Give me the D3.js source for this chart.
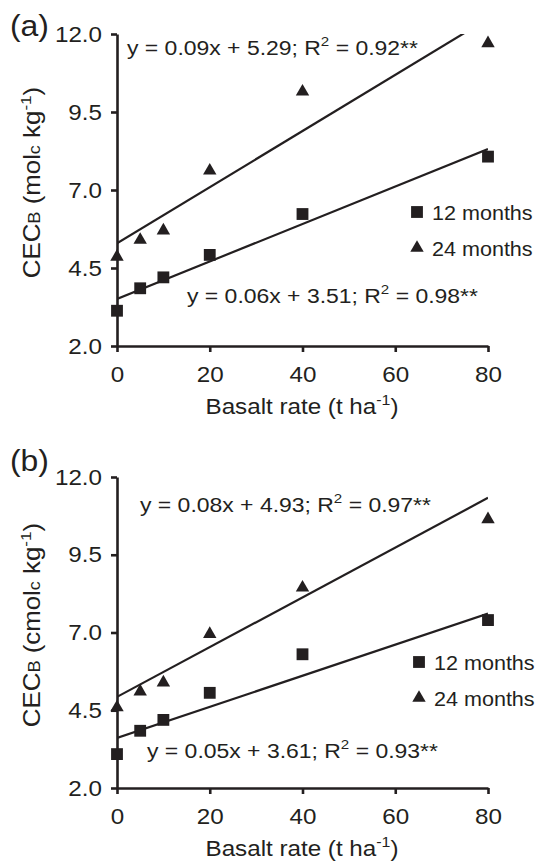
<!DOCTYPE html>
<html>
<head>
<meta charset="utf-8">
<script src="https://cdn.jsdelivr.net/npm/d3@7"></script>
<style>
  html, body { margin: 0; padding: 0; background: #fff; }
  svg { display: block; }
  text { font-family: "Liberation Sans", Arial, Helvetica, sans-serif; fill: #231f20; }
</style>
</head>
<body>
<script>
// Basalt application rates (t ha-1)
const rates = [0, 5, 10, 20, 40, 80];

// CEC_B (cmolc kg-1), panel (a)
const a12 = [3.13, 3.85, 4.20, 4.92, 6.23, 8.07];
const a24 = [4.86, 5.40, 5.70, 7.62, 10.15, 11.70];
// CEC_B (cmolc kg-1), panel (b)
const b12 = [3.09, 3.84, 4.19, 5.06, 6.30, 7.40];
const b24 = [4.59, 5.10, 5.39, 6.95, 8.44, 10.64];

// Fitted linear models: [slope, intercept, R2]
const fitA12 = [0.06, 3.51, 0.98];
const fitA24 = [0.09, 5.29, 0.92];
const fitB12 = [0.05, 3.61, 0.93];
const fitB24 = [0.08, 4.93, 0.97];

const xTicks = [0, 20, 40, 60, 80];
const yTicks = [2.0, 4.5, 7.0, 9.5, 12.0];
const legendLabels = ["12 months", "24 months"];

const W = 537, H = 863;
const INK = "#231f20";
const SX = 1.1; // horizontal stretch applied to all lettering

const svg = d3.select("body").append("svg").attr("width", W).attr("height", H);

// Text helper: places text at (x,y) with a slight horizontal stretch
function label(g, x, y, size, anchor, sx) {
  return g.append("text")
    .attr("transform", `translate(${x},${y}) scale(${sx || SX},1)`)
    .attr("font-size", size)
    .attr("text-anchor", anchor || "start");
}

function equation(g, x, y, fit) {
  const t = label(g, x, y, 20.5, "start", 1.12);
  t.append("tspan").text(`y = ${fit[0].toFixed(2)}x + ${fit[1].toFixed(2)}; R`);
  t.append("tspan").attr("font-size", 13.5).attr("dy", -9).text("2");
  t.append("tspan").attr("dy", 9).text(` = ${fit[2].toFixed(2)}**`);
}

function panel(cfg) {
  const g = svg.append("g");
  const x = d3.scaleLinear().domain([0, 80]).range([117, 488]);
  const y = d3.scaleLinear().domain([2, 12]).range([cfg.bottom, cfg.top]);

  // Axes
  const yAxis = d3.axisLeft(y).tickValues(yTicks).tickFormat(d3.format(".1f"))
    .tickSizeInner(6).tickSizeOuter(0).tickPadding(4);
  const xAxis = d3.axisBottom(x).tickValues(xTicks).tickFormat(d3.format("d"))
    .tickSizeInner(6).tickSizeOuter(0).tickPadding(14);

  const gy = g.append("g").attr("transform", `translate(117,0)`).call(yAxis);
  const gx = g.append("g").attr("transform", `translate(0,${cfg.bottom})`).call(xAxis);
  [gx, gy].forEach(a => {
    a.select(".domain").attr("stroke", INK).attr("stroke-width", 2.6);
    a.selectAll(".tick line").attr("stroke", INK).attr("stroke-width", 2.6);
    a.selectAll(".tick text").attr("font-size", 22).attr("fill", INK)
      .attr("font-family", '"Liberation Sans", Arial, sans-serif')
      .attr("transform", `scale(${SX},1)`);
  });
  gy.selectAll(".tick text").attr("x", -15 / SX);

  // Regression lines, clipped to the plotting area
  const clipId = "clip-" + cfg.name;
  g.append("clipPath").attr("id", clipId).append("rect")
    .attr("x", 117).attr("y", cfg.top).attr("width", 371).attr("height", cfg.bottom - cfg.top);
  const lines = g.append("g").attr("clip-path", `url(#${clipId})`);
  [cfg.fit12, cfg.fit24].forEach(f => {
    lines.append("line")
      .attr("x1", x(0)).attr("y1", y(f[1]))
      .attr("x2", x(80)).attr("y2", y(f[0] * 80 + f[1]))
      .attr("stroke", INK).attr("stroke-width", 2.2);
  });

  // Points
  const sq = d3.symbol().type(d3.symbolSquare).size(140);
  const tri = d3.symbol().type(d3.symbolTriangle).size(78);
  g.append("g").selectAll("path").data(rates.map((r, i) => [r, cfg.s12[i]]))
    .join("path").attr("d", sq)
    .attr("transform", d => `translate(${x(d[0])},${y(d[1])})`).attr("fill", INK);
  g.append("g").selectAll("path").data(rates.map((r, i) => [r, cfg.s24[i]]))
    .join("path").attr("d", tri)
    .attr("transform", d => `translate(${x(d[0])},${y(d[1])})`).attr("fill", INK);

  // Legend
  const lg = g.append("g");
  lg.append("path").attr("d", sq).attr("fill", INK)
    .attr("transform", `translate(${cfg.legX},${cfg.legY})`);
  label(lg, cfg.legX + 15, cfg.legY + 8, 19.6).text(legendLabels[0]);
  lg.append("path").attr("d", tri).attr("fill", INK)
    .attr("transform", `translate(${cfg.legX},${cfg.legY + 36})`);
  label(lg, cfg.legX + 15, cfg.legY + 44, 19.6).text(legendLabels[1]);

  // Equations
  equation(g, cfg.eq24[0], cfg.eq24[1], cfg.fit24);
  equation(g, cfg.eq12[0], cfg.eq12[1], cfg.fit12);

  // Panel tag
  label(g, 10, cfg.tagY, 29).text(cfg.tag);

  // Axis titles
  const xt = label(g, 302, cfg.bottom + 68, 22, "middle");
  xt.append("tspan").text("Basalt rate (t ha");
  xt.append("tspan").attr("font-size", 14.5).attr("dy", -9).text("-1");
  xt.append("tspan").attr("dy", 9).text(")");

  const yc = (cfg.top + cfg.bottom) / 2 - 7.5;
  const yt = g.append("text")
    .attr("transform", `translate(40,${yc}) rotate(-90) scale(${SX},1)`)
    .attr("font-size", 23.5).attr("text-anchor", "middle");
  yt.append("tspan").text("CEC");
  yt.append("tspan").attr("font-size", 16.5).text("B");
  yt.append("tspan").text(` (${cfg.unit}mol`);
  yt.append("tspan").attr("font-size", 16.5).text("c");
  yt.append("tspan").text(" kg");
  yt.append("tspan").attr("font-size", 15.5).attr("dy", -9.5).text("-1");
  yt.append("tspan").attr("dy", 9.5).text(")");
}

panel({
  name: "a", tag: "(a)", tagY: 36, top: 34, bottom: 346, unit: "",
  s12: a12, s24: a24, fit12: fitA12, fit24: fitA24,
  legX: 417, legY: 212, eq24: [127, 55], eq12: [187, 303]
});
panel({
  name: "b", tag: "(b)", tagY: 471, top: 477, bottom: 788, unit: "c",
  s12: b12, s24: b24, fit12: fitB12, fit24: fitB24,
  legX: 419, legY: 662, eq24: [140, 512], eq12: [147, 758]
});
</script>
</body>
</html>
